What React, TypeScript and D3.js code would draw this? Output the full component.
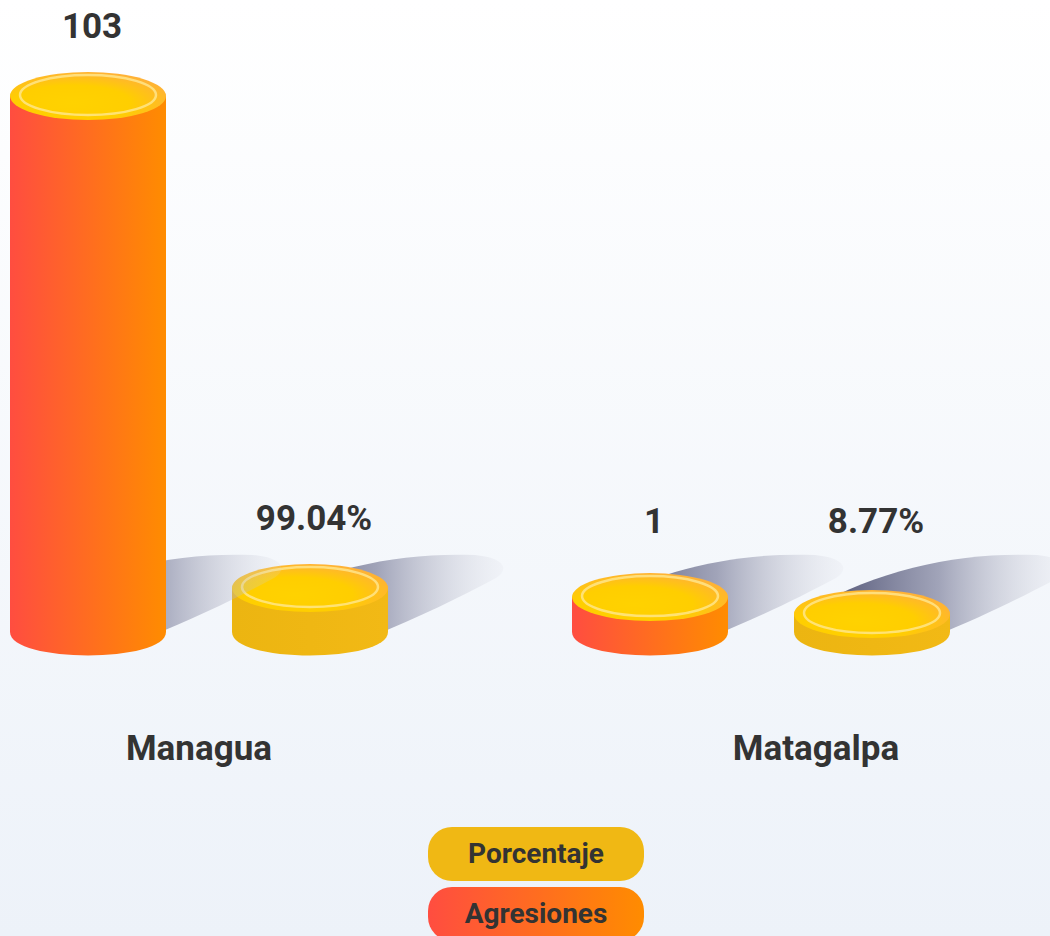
import React from "react";
import * as d3 from "d3";

const categories = ["Managua", "Matagalpa"];
const seriesNames = ["Agresiones", "Porcentaje"];
const agresiones = [103, 1];
const porcentaje = [99.04, 8.77];
const porcentajeLabels = ["99.04%", "8.77%"];
const legendItems = ["Porcentaje", "Agresiones"];

const W = 1050;
const H = 936;
const baseY = 632;
const rx = 78;
const ry = 24;
const FONT = "Roboto, 'Noto Sans', sans-serif";

export default function App() {
  const xCat = d3.scaleBand<string>().domain(categories).range([-82, 1042]).padding(0);
  const xSer = d3.scalePoint<string>().domain(seriesNames).range([-111, 111]);
  const xLabel = d3.scalePoint<string>().domain(categories).range([199, 816]);
  const yAgr = d3.scaleLinear().domain([0, 103]).range([602, 96]);
  const yPct = d3.scaleLinear().domain([0, 100]).range([616.5, 587.7]);

  const cx = (cat: string, ser: string) => (xCat(cat) as number) + xCat.bandwidth() / 2 + (xSer(ser) as number);

  type Col = { cat: string; ser: string; top: number; label: string; body: string };
  const pctCols: Col[] = categories.map((c, i) => ({
    cat: c, ser: "Porcentaje", top: yPct(porcentaje[i]), label: porcentajeLabels[i], body: "url(#pctBody)",
  }));
  const agrCols: Col[] = categories.map((c, i) => ({
    cat: c, ser: "Agresiones", top: yAgr(agresiones[i]), label: d3.format("d")(agresiones[i]), body: "url(#agrBody)",
  }));

  const shadowPath = (x: number) => {
    const p = d3.path();
    p.moveTo(x - 60, baseY - 24);
    p.bezierCurveTo(x + 10, baseY - 64, x + 90, baseY - 80, x + 165, baseY - 77);
    p.bezierCurveTo(x + 196, baseY - 74, x + 199, baseY - 62, x + 186, baseY - 54);
    p.bezierCurveTo(x + 150, baseY - 35, x + 110, baseY - 15, x + 60, baseY + 5);
    p.lineTo(x - 60, baseY + 5);
    p.closePath();
    return p.toString();
  };

  const bodyPath = (x: number, top: number) => {
    const p = d3.path();
    p.moveTo(x - rx, top);
    p.lineTo(x - rx, baseY);
    p.bezierCurveTo(x - rx, baseY + ry * 1.3, x + rx, baseY + ry * 1.3, x + rx, baseY);
    p.lineTo(x + rx, top);
    p.closePath();
    return p.toString();
  };

  const renderShadow = (col: Col) => {
    const x = cx(col.cat, col.ser);
    return <path key={"s" + col.cat + col.ser} d={shadowPath(x)} fill="url(#shadowGrad)" />;
  };

  const renderCyl = (col: Col) => {
    const x = cx(col.cat, col.ser);
    return (
      <g key={"c" + col.cat + col.ser}>
        <path d={bodyPath(x, col.top)} fill={col.body} />
        <ellipse cx={x} cy={col.top} rx={rx} ry={ry} fill="url(#topGrad)" />
        <ellipse cx={x} cy={col.top - 1} rx={rx - 10} ry={ry - 4} fill="none" stroke="#ffe790" strokeOpacity={0.8} strokeWidth={2.5} />
      </g>
    );
  };

  const renderLabel = (col: Col) => {
    const x = cx(col.cat, col.ser);
    const y = Math.min(col.top - ry - 34, 533);
    return (
      <text key={"l" + col.cat + col.ser} x={x + 4} y={y} textAnchor="middle" fontFamily={FONT} fontWeight={700} fontSize={35} fill="#333333">
        {col.label}
      </text>
    );
  };

  const legendY = d3.scalePoint<string>().domain(legendItems).range([827, 887]);

  return (
    <svg width={W} height={H} style={{ position: "absolute", left: 0, top: 0 }}>
      <defs>
        <linearGradient id="bg" x1="0" y1="0" x2="0" y2="1">
          <stop offset="0" stopColor="#ffffff" />
          <stop offset="1" stopColor="#edf2f9" />
        </linearGradient>
        <linearGradient id="agrBody" x1="0" y1="0" x2="1" y2="0">
          <stop offset="0" stopColor="#ff4d40" />
          <stop offset="1" stopColor="#ff8c00" />
        </linearGradient>
        <linearGradient id="pctBody" x1="0" y1="0" x2="1" y2="0">
          <stop offset="0" stopColor="#ecb511" />
          <stop offset="1" stopColor="#f2b915" />
        </linearGradient>
        <radialGradient id="topGrad" cx="0.4" cy="0.65" r="0.75">
          <stop offset="0" stopColor="#ffd200" />
          <stop offset="0.5" stopColor="#ffce00" />
          <stop offset="1" stopColor="#ffaa45" />
        </radialGradient>
        <linearGradient id="shadowGrad" x1="0" y1="0" x2="1" y2="0">
          <stop offset="0" stopColor="#33365c" stopOpacity={0.9} />
          <stop offset="0.5" stopColor="#7d809c" stopOpacity={0.7} />
          <stop offset="1" stopColor="#d8d9e2" stopOpacity={0.15} />
        </linearGradient>
      </defs>
      <rect x={0} y={0} width={W} height={H} fill="url(#bg)" />

      {pctCols.map(renderShadow)}
      {pctCols.map(renderCyl)}
      {agrCols.map(renderShadow)}
      {agrCols.map(renderCyl)}
      {pctCols.map(renderLabel)}
      {agrCols.map(renderLabel)}

      {categories.map((c) => (
        <text key={"cat" + c} x={xLabel(c)} y={760} textAnchor="middle" fontFamily={FONT} fontWeight={700} fontSize={35} fill="#333333">
          {c}
        </text>
      ))}

      {legendItems.map((name) => {
        const y = legendY(name) as number;
        return (
          <g key={"lg" + name}>
            <rect x={428} y={y} width={216} height={54} rx={24} fill={name === "Agresiones" ? "url(#agrBody)" : "#f0b814"} />
            <text x={536} y={y + 36} textAnchor="middle" fontFamily={FONT} fontWeight={700} fontSize={28} fill="#333333">
              {name}
            </text>
          </g>
        );
      })}
    </svg>
  );
}
